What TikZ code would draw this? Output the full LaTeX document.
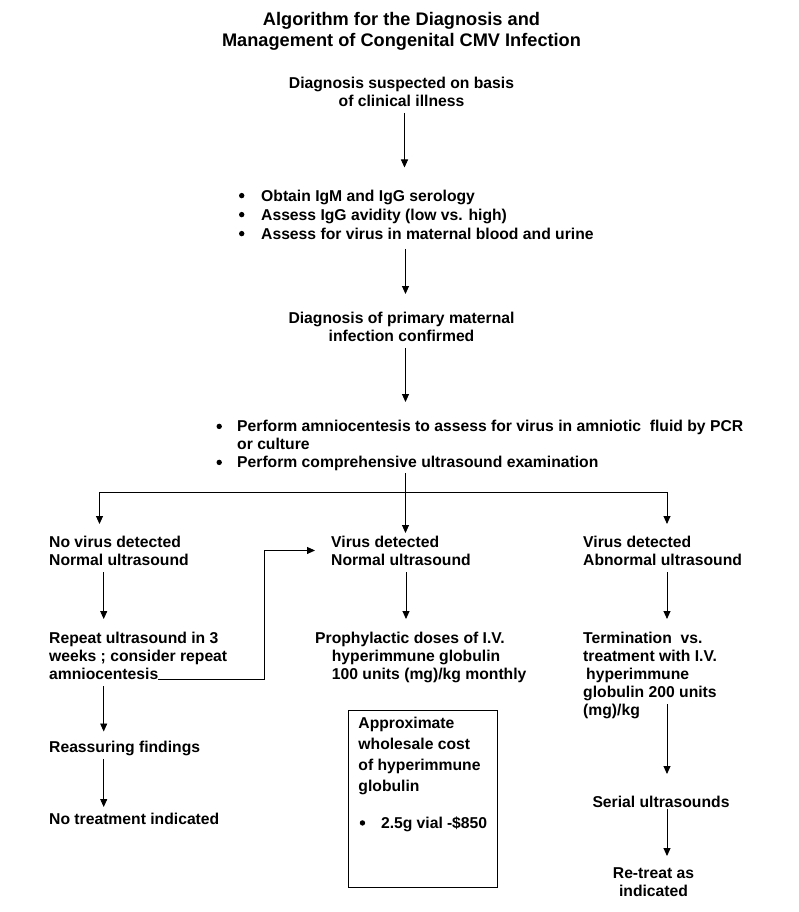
\documentclass[tikz,border=0pt]{standalone}
\usepackage{fontspec}
\setmainfont{Liberation Sans}
\usetikzlibrary{arrows.meta,calc}
\newcommand\mybody{\fontsize{15.7}{18}\selectfont\bfseries}
\newcommand\mytitle{\fontsize{18.2}{21}\selectfont\bfseries}
\newcommand\mybul{\tikz[baseline=-5.4pt]\fill (0pt,0pt) circle (2.7pt);}
\begin{document}
\begin{tikzpicture}[x=1pt,y=-1pt,
  arr/.style={-{Triangle[length=8pt,width=7pt]}, line width=0.9pt},
  ln/.style={line width=0.9pt},
  txt/.style={inner sep=0pt, font=\mybody, align=left},
  costbox/.style={draw, line width=0.9pt, inner xsep=10.3pt, inner ysep=0pt, minimum width=149.3pt, minimum height=177pt, anchor=north west}
]
\useasboundingbox[fill=white] (0,0) rectangle (799,912);

% texts
\node[txt, font=\mytitle, align=center, anchor=north] (title) at (401.5,12.5)
  {Algorithm for the Diagnosis and\\Management of Congenital CMV Infection};
\node[txt, align=center, anchor=north] (susp) at (401.5,77)
  {Diagnosis suspected on basis\\of clinical illness};
\node[txt, anchor=north west] (sero) at (238.8,187.5)
  {\fontsize{15.7}{19}\selectfont\begin{tabular}{@{}p{22.2pt}@{}l@{}}
   \mybul & Obtain IgM and IgG serology\\
   \mybul & Assess IgG avidity (low vs. high)\\
   \mybul & Assess for virus in maternal blood and urine
   \end{tabular}};
\node[txt, align=center, anchor=north] (conf) at (401.5,312)
  {Diagnosis of primary maternal\\infection confirmed};
\node[txt, anchor=north west] (amnio) at (216.3,419)
  {\begin{tabular}{@{}p{20.7pt}@{}l@{}}
   \mybul & Perform amniocentesis to assess for virus in amniotic\ \ fluid by PCR\\
   & or culture\\
   \mybul & Perform comprehensive ultrasound examination
   \end{tabular}};

\node[txt, anchor=north west] (nv) at (49,535.5) {No virus detected\\Normal ultrasound};
\node[txt, anchor=north west] (vn) at (331,535.5) {Virus detected\\Normal ultrasound};
\node[txt, anchor=north west] (va) at (583,535.5) {Virus detected\\Abnormal ultrasound};

\node[txt, anchor=north west] (rep) at (49,632)
  {Repeat ultrasound in 3\\weeks ; consider repeat\\amniocentesis};
\node[txt, anchor=north west] (reas) at (49,740.5) {Reassuring findings};
\node[txt, anchor=north west] (notr) at (49,813) {No treatment indicated};

\node[txt, anchor=north west] (proph) at (315,632)
  {Prophylactic doses of I.V.\\\hspace*{16.7pt}hyperimmune globulin\\\hspace*{16.7pt}100 units (mg)/kg monthly};
\node[costbox] (cost) at (347.7,710)
  {\parbox[c][175pt][t]{128.7pt}{\fontsize{15.7}{21}\selectfont\bfseries\vspace*{5.5pt}%
   Approximate\\wholesale cost\\of hyperimmune\\globulin\par\vspace{16pt}%
   \noindent\hspace*{1.3pt}\makebox[21.4pt][l]{\mybul}2.5g vial -\$850}};

\node[txt, anchor=north west] (term) at (583,632)
  {Termination\ \ vs.\\treatment with I.V.\\\hspace*{3pt}hyperimmune\\globulin 200 units\\(mg)/kg};
\node[txt, anchor=north] (ser) at (661,796) {Serial ultrasounds};
\node[txt, align=center, anchor=north] (ret) at (653.5,867) {Re-treat as\\indicated};

% helper coordinates
\coordinate (ctop) at (404.5,0);
\coordinate (sp) at (405.5,492);
\coordinate (jL) at (99.5,492);
\coordinate (jR) at (667,492);
\coordinate (cL) at (103.7,0);
\coordinate (cM) at (406,0);
\coordinate (cR) at (667,0);
\coordinate (fbx) at (264.7,0);

% connectors
\draw[arr, shorten <=6pt, shorten >=20pt] (susp.south -| ctop) -- (sero.north -| ctop);
\draw[arr, shorten <=4pt, shorten >=18pt] (sero.south -| sp) -- (conf.north -| sp);
\draw[arr, shorten <=6pt, shorten >=17pt] (conf.south -| sp) -- (amnio.north -| sp);
\draw[ln] (amnio.south -| sp) -- (sp);
\draw[ln] (jL) -- (jR);
\draw[arr, shorten >=11.5pt] (jL) -- (jL |- nv.north);
\draw[arr, shorten >=2.5pt] (sp) -- (sp |- vn.north);
\draw[arr, shorten >=11.5pt] (jR) -- (jR |- va.north);

\draw[arr, shorten <=7pt, shorten >=13pt] (nv.south -| cL) -- (rep.north -| cL);
\draw[arr, shorten <=6.5pt, shorten >=9pt] (rep.south -| cL) -- (reas.north -| cL);
\draw[arr, shorten <=3.2pt, shorten >=6pt] (reas.south -| cL) -- (notr.north -| cL);
\draw[arr, shorten >=16pt] ($(rep.south west)+(108.5,0)$) -| (vn.west -| fbx) -- (vn.west);

\draw[arr, shorten <=7pt, shorten >=13pt] (vn.south -| cM) -- (proph.north -| cM);

\draw[arr, shorten <=7pt, shorten >=13pt] (va.south -| cR) -- (term.north -| cR);
\draw[arr, shorten <=-14.8pt, shorten >=22pt] (term.south -| cR) -- (ser.north -| cR);
\draw[arr, shorten <=1.5pt, shorten >=11pt] (ser.south -| cR) -- (ret.north -| cR);
\end{tikzpicture}
\end{document}
